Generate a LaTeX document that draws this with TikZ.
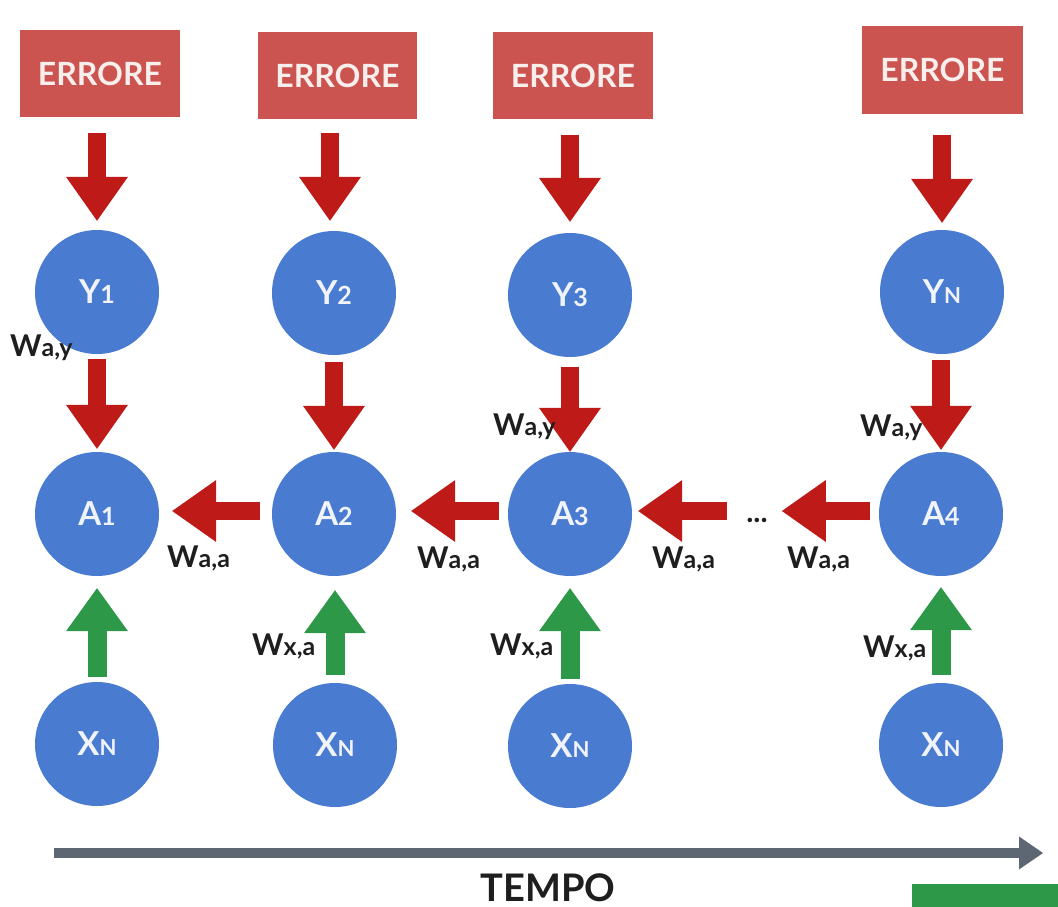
\documentclass[tikz,border=0pt]{standalone}
\usepackage{fontspec}
\setmainfont{Lato}
\usetikzlibrary{arrows.meta}
\definecolor{errfill}{RGB}{204,84,80}
\definecolor{boxtext}{RGB}{248,238,236}
\definecolor{unitblue}{RGB}{73,123,209}
\definecolor{unittext}{RGB}{240,243,250}
\definecolor{arrred}{RGB}{190,27,24}
\definecolor{arrgreen}{RGB}{44,152,72}
\definecolor{labtext}{RGB}{30,30,30}
\definecolor{timegray}{RGB}{93,102,115}
\newcommand{\Wsub}[1]{W{\fontsize{25}{25}\selectfont #1}}
\newcommand{\unitlab}[2]{#1{\fontsize{25}{25}\selectfont #2}}
\newcommand{\unitlabN}[1]{#1{\fontsize{22}{22}\selectfont N}}
\tikzset{
  errbox/.style={rectangle, fill=errfill, text=boxtext, inner sep=0pt,
    font=\fontsize{32}{32}\selectfont\bfseries},
  unit/.style={circle, fill=unitblue, text=unittext, minimum size=124pt,
    inner sep=0pt, font=\fontsize{33}{33}\selectfont\bfseries},
  redarrow/.style={draw=arrred, line width=18pt,
    -{Triangle[length=44pt,width=62pt,line width=0pt]}},
  greenarrow/.style={draw=arrgreen, line width=19pt,
    -{Triangle[length=43pt,width=62pt,line width=0pt]}},
  wlabel/.style={text=labtext, inner sep=0pt, anchor=base west,
    font=\fontsize{30}{30}\selectfont\bfseries},
  timeline/.style={draw=timegray, line width=10pt,
    -{Triangle[length=24pt,width=33pt,line width=0pt]}},
}
\begin{document}
\begin{tikzpicture}[x=1pt,y=-1pt]
\useasboundingbox[fill=white] (0,0) rectangle (1058,907);

% error boxes
\node[errbox, minimum width=160pt, minimum height=87pt] (E1) at (100,73.5) {ERRORE};
\node[errbox, minimum width=159pt, minimum height=87pt] (E2) at (337.5,75.5) {ERRORE};
\node[errbox, minimum width=160pt, minimum height=87pt] (E3) at (573,75.5) {ERRORE};
\node[errbox, minimum width=161pt, minimum height=88pt] (E4) at (942.5,70) {ERRORE};

% output units
\node[unit] (Y1) at (97,292) {\unitlab{Y}{1}};
\node[unit] (Y2) at (334,293) {\unitlab{Y}{2}};
\node[unit] (Y3) at (570,295) {\unitlab{Y}{3}};
\node[unit] (Y4) at (942,292) {\unitlabN{Y}};

% hidden units
\node[unit] (A1) at (97,514) {\unitlab{A}{1}};
\node[unit] (A2) at (334,514) {\unitlab{A}{2}};
\node[unit] (A3) at (570,514) {\unitlab{A}{3}};
\node[unit] (A4) at (941,514) {\unitlab{A}{4}};

% inputs
\node[unit] (X1) at (97,744) {\unitlabN{X}};
\node[unit] (X2) at (335,745) {\unitlabN{X}};
\node[unit] (X3) at (570,746) {\unitlabN{X}};
\node[unit] (X4) at (941,745) {\unitlabN{X}};

% dots
\node[inner sep=0pt, text=labtext, font=\fontsize{30}{30}\selectfont\bfseries] (dots) at (757,520) {...};

% error -> output
\draw[redarrow, shorten <=16pt, shorten >=9pt] (E1.south -| Y1) -- (Y1);
\draw[redarrow, shorten <=14pt, shorten >=10pt] ([xshift=-4pt]E2.south -| Y2) -- ([xshift=-4pt]Y2.north);
\draw[redarrow, shorten <=16pt, shorten >=11pt] (E3.south -| Y3) -- (Y3);
\draw[redarrow, shorten <=21pt, shorten >=7pt] (E4.south -| Y4) -- (Y4);

% output -> hidden
\draw[redarrow, shorten <=5pt, shorten >=3pt] (Y1) -- (A1);
\draw[redarrow, shorten <=7pt, shorten >=2pt] (Y2) -- (A2);
\draw[redarrow, shorten <=10pt, shorten >=0pt] (Y3) -- (A3);
\draw[redarrow, shorten <=6pt, shorten >=2pt] (Y4.south -| A4) -- (A4);

% hidden -> hidden
\draw[redarrow, shorten <=12pt, shorten >=13pt] ([yshift=3pt]A2.west) -- ([yshift=3pt]A1.east);
\draw[redarrow, shorten <=9pt, shorten >=15pt] ([yshift=3pt]A3.west) -- ([yshift=3pt]A2.east);
\draw[redarrow, shorten <=19pt, shorten >=6pt] ([yshift=3pt]A3.east -| dots.west) -- ([yshift=3pt]A3.east);
\draw[redarrow, shorten <=9pt, shorten >=14pt] ([yshift=3pt]A4.west) -- ([yshift=3pt]A4.west -| dots.east);

% input -> hidden
\draw[greenarrow, shorten <=5pt, shorten >=12pt] (X1) -- (A1);
\draw[greenarrow, shorten <=8pt, shorten >=14pt] (X2) -- (X2 |- A2.south);
\draw[greenarrow, shorten <=5pt, shorten >=12pt] (X3) -- (A3);
\draw[greenarrow, shorten <=8pt, shorten >=11pt] (X4) -- (A4);

% weight labels
\node[wlabel] (ly1) at (10,356) {\Wsub{a,y}};
\node[wlabel] (ly3) at (493,435) {\Wsub{a,y}};
\node[wlabel] (ly4) at (860,436) {\Wsub{a,y}};
\node[wlabel] (la1) at (167,567) {\Wsub{a,a}};
\node[wlabel] (la2) at (417,568) {\Wsub{a,a}};
\node[wlabel] (la3) at (652,568) {\Wsub{a,a}};
\node[wlabel] (la4) at (787,568) {\Wsub{a,a}};
\node[wlabel] (lx2) at (252,655) {\Wsub{x,a}};
\node[wlabel] (lx3) at (490,655) {\Wsub{x,a}};
\node[wlabel] (lx4) at (863,657) {\Wsub{x,a}};

% time axis
\coordinate (t0) at (54,853);
\coordinate (t1) at (1043,853);
\draw[timeline] (t0) -- (t1);
\node[text=labtext, inner sep=0pt, anchor=base, font=\fontsize{38}{38}\selectfont\bfseries] (tempo) at (548,901) {TEMPO};

% partial green bar at the bottom edge
\fill[arrgreen] (912,884) rectangle (1058,907);
\end{tikzpicture}
\end{document}
